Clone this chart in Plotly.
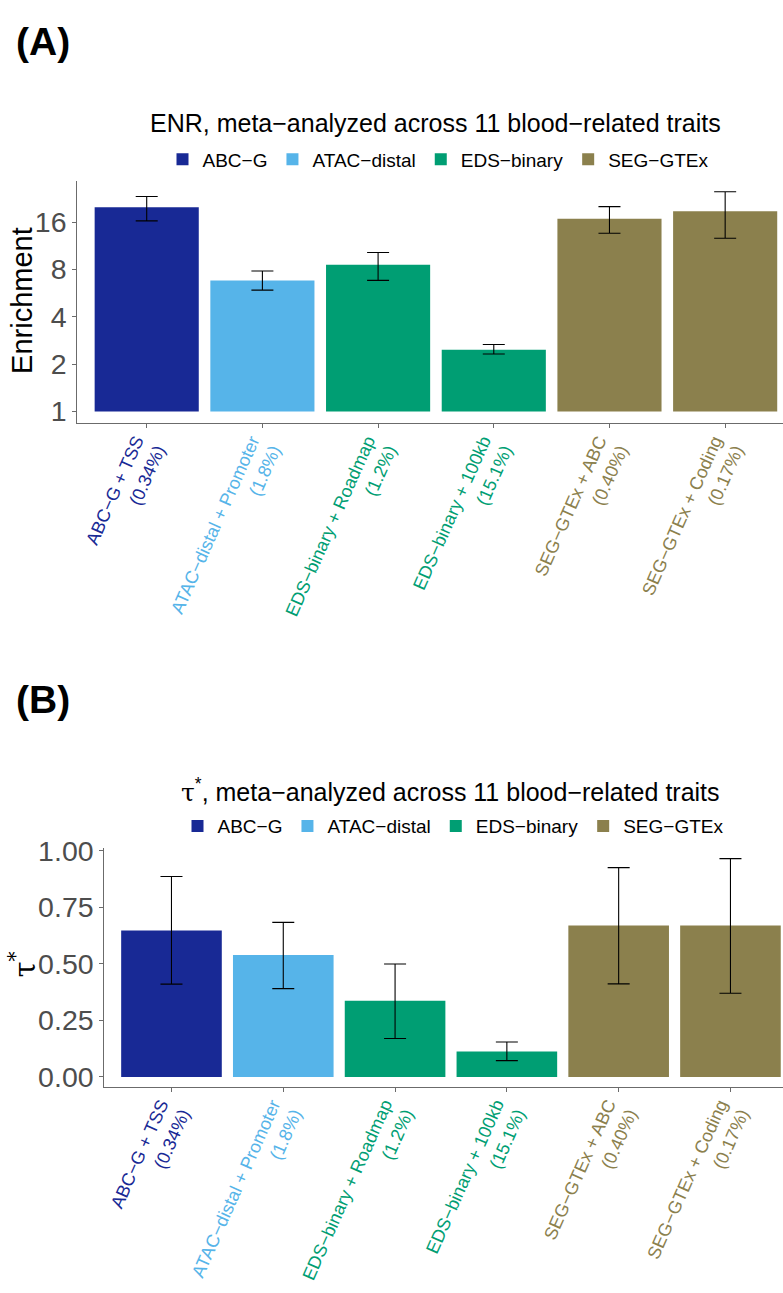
import math
import plotly.graph_objects as go

W, H = 783, 1293

# ---------------- data ----------------
categories = ["ABC\u2212G + TSS", "ATAC\u2212distal + Promoter", "EDS\u2212binary + Roadmap",
              "EDS\u2212binary + 100kb", "SEG\u2212GTEx + ABC", "SEG\u2212GTEx + Coding"]
percents = ["(0.34%)", "(1.8%)", "(1.2%)", "(15.1%)", "(0.40%)", "(0.17%)"]
groups = ["ABC\u2212G", "ATAC\u2212distal", "EDS\u2212binary", "EDS\u2212binary", "SEG\u2212GTEx", "SEG\u2212GTEx"]
group_order = ["ABC\u2212G", "ATAC\u2212distal", "EDS\u2212binary", "SEG\u2212GTEx"]
group_colors = {"ABC\u2212G": "#182995", "ATAC\u2212distal": "#56B4E9",
                "EDS\u2212binary": "#009E73", "SEG\u2212GTEx": "#8B804D"}

enr = [19.9, 6.82, 8.57, 2.47, 16.8, 18.8]
enr_lo = [16.3, 5.91, 6.82, 2.32, 13.6, 12.65]
enr_hi = [23.3, 7.83, 10.27, 2.67, 20.1, 25.0]

tau = [0.647, 0.539, 0.337, 0.112, 0.669, 0.669]
tau_lo = [0.41, 0.39, 0.17, 0.072, 0.411, 0.37]
tau_hi = [0.886, 0.683, 0.499, 0.154, 0.925, 0.965]

enr_ticks = [1, 2, 4, 8, 16]
tau_ticks = [0, 0.25, 0.5, 0.75, 1.0]
tau_ticktext = ["0.00", "0.25", "0.50", "0.75", "1.00"]
BASELINE = 1

FONT = "Liberation Sans, Arial, Helvetica, sans-serif"
AX = "#6b6b6b"


def px(x):
    return x / W


def py(y):
    return 1 - y / H


fig = go.Figure()

for g in group_order:
    idx = [i for i, gg in enumerate(groups) if gg == g]
    # panel A: enrichment (bars rise from the baseline of 1 on a log axis)
    fig.add_trace(go.Bar(
        x=[categories[i] for i in idx],
        y=[enr[i] - BASELINE for i in idx],
        base=BASELINE,
        width=0.9,
        marker=dict(color=group_colors[g], line=dict(width=0)),
        name=g, legend="legend", xaxis="x", yaxis="y",
        customdata=[enr[i] for i in idx],
        hovertemplate="%{x}<br>Enrichment %{customdata}<extra></extra>",
        error_y=dict(type="data", symmetric=False,
                     array=[enr_hi[i] - enr[i] for i in idx],
                     arrayminus=[enr[i] - enr_lo[i] for i in idx],
                     color="black", thickness=1.1, width=11),
    ))
    # panel B: tau*
    fig.add_trace(go.Bar(
        x=[categories[i] for i in idx],
        y=[tau[i] for i in idx],
        width=0.9,
        marker=dict(color=group_colors[g], line=dict(width=0)),
        name=g, legend="legend2", xaxis="x2", yaxis="y2",
        error_y=dict(type="data", symmetric=False,
                     array=[tau_hi[i] - tau[i] for i in idx],
                     arrayminus=[tau[i] - tau_lo[i] for i in idx],
                     color="black", thickness=1.1, width=11),
    ))

ticktext = [
    f"<span style='color:{group_colors[g]}'>{c}</span><br><span style='color:{group_colors[g]}'>{p}</span>"
    for c, p, g in zip(categories, percents, groups)
]

common_x = dict(
    type="category", categoryorder="array", categoryarray=categories,
    tickvals=categories, ticktext=ticktext, tickangle=-66,
    tickfont=dict(family=FONT, size=18),
    showline=True, linecolor=AX, linewidth=1.2,
    ticks="outside", ticklen=4, tickcolor=AX, tickwidth=1,
    showgrid=False, zeroline=False, fixedrange=True,
)
common_y = dict(
    showline=True, linecolor=AX, linewidth=1.2,
    ticks="outside", ticklen=4, tickcolor=AX, tickwidth=1,
    tickfont=dict(family=FONT, size=28.5, color="#4D4D4D"),
    showgrid=False, zeroline=False, fixedrange=True,
)

legend_common = dict(orientation="h", xanchor="center", yanchor="middle",
                     font=dict(family=FONT, size=19, color="black"),
                     itemwidth=30, tracegroupgap=0, bgcolor="rgba(0,0,0,0)")

fig.update_layout(
    width=W, height=H, autosize=False,
    margin=dict(l=0, r=0, t=0, b=0),
    paper_bgcolor="white", plot_bgcolor="white",
    barmode="overlay",
    font=dict(family=FONT, color="black"),
    showlegend=True,
    xaxis=dict(domain=[px(77.3), 1], range=[-0.6, 5.5], anchor="y", **common_x),
    yaxis=dict(domain=[py(420), py(171.7)], type="log",
               range=[-0.0726, 1.4685], tickvals=enr_ticks,
               ticktext=[str(t) for t in enr_ticks], anchor="x", **common_y),
    xaxis2=dict(domain=[px(104.4), 1], range=[-0.6, 5.47], anchor="y2", **common_x),
    yaxis2=dict(domain=[py(1100), py(855)], range=[-0.043, 1.014],
                tickvals=tau_ticks, ticktext=tau_ticktext, anchor="x2", **common_y),
    legend=dict(x=px(438), y=py(150), **legend_common),
    legend2=dict(x=px(453), y=py(833), **legend_common),
)

# baseline at enrichment = 1 (log axis shapes use log10 units)
fig.add_shape(type="line", xref="x domain", x0=0, x1=1, yref="y",
              y0=math.log10(BASELINE), y1=math.log10(BASELINE),
              line=dict(color="black", width=1.3), layer="above")

annotations = [
    dict(text="<b>(A)</b>", x=px(14), y=py(29), xanchor="left", yanchor="middle",
         font=dict(size=39, family=FONT, color="black")),
    dict(text="<b>(B)</b>", x=px(14), y=py(703), xanchor="left", yanchor="middle",
         font=dict(size=39, family=FONT, color="black")),
    dict(text="ENR, meta\u2212analyzed across 11 blood\u2212related traits", x=px(436), y=py(113),
         xanchor="center", yanchor="middle", font=dict(size=25, family=FONT, color="black")),
    dict(text="<span style='font-family:DejaVu Serif, serif'>\u03c4</span><sup>*</sup>, "
              "meta\u2212analyzed across 11 blood\u2212related traits",
         x=px(450), y=py(797), xanchor="center", yanchor="middle",
         font=dict(size=25, family=FONT, color="black")),
    dict(text="Enrichment", x=px(22), y=py(295), textangle=-90, xanchor="center", yanchor="middle",
         font=dict(size=29, family=FONT, color="black")),
    dict(text="\u03c4<sup>*</sup>", x=px(22), y=py(975), textangle=-90, xanchor="center", yanchor="middle",
         font=dict(size=29, family="DejaVu Serif, serif", color="black")),
]
for a in annotations:
    a.update(xref="paper", yref="paper", showarrow=False)
fig.update_layout(annotations=annotations)

post = (
    "var s='margin:0;padding:0;overflow:hidden;width:783px;height:1293px;';"
    "document.documentElement.style.cssText=s;document.body.style.cssText=s;"
    "var d=document.getElementById('{plot_id}');"
    "d.style.position='absolute';d.style.left='0px';d.style.top='0px';"
)

fig.write_html("out.html", config={"displayModeBar": False}, post_script=post)
